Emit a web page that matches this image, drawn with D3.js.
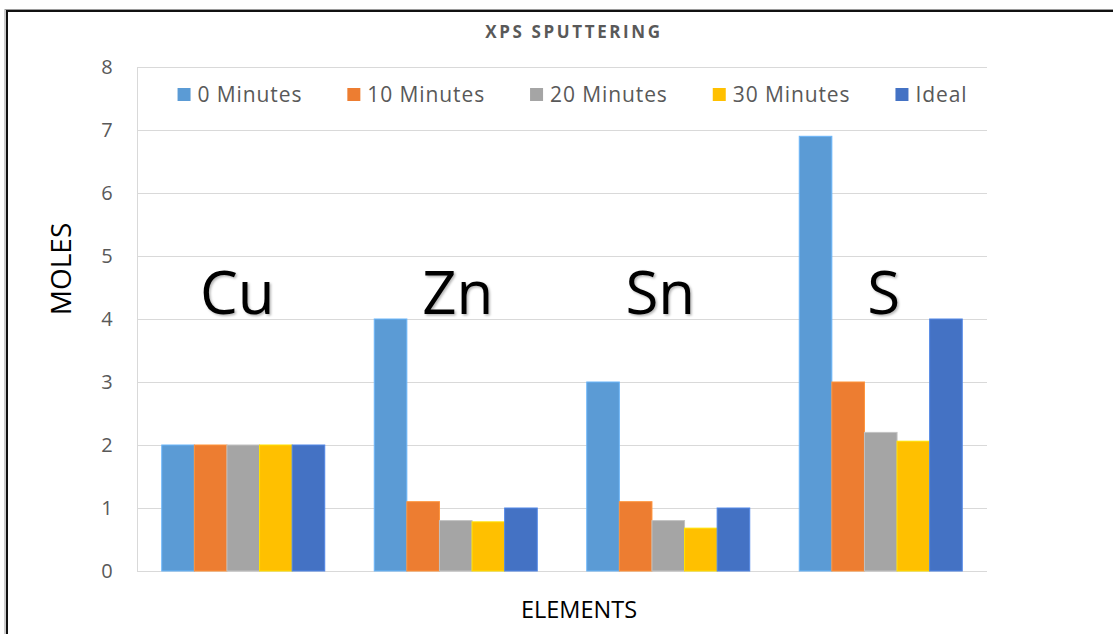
<!DOCTYPE html>
<html>
<head>
<meta charset="utf-8">
<script src="https://cdn.jsdelivr.net/npm/d3@7"></script>
<style>
  html, body { margin: 0; padding: 0; background: #fff; }
  svg { display: block; font-family: "Open Sans", "Noto Sans", sans-serif; }
</style>
</head>
<body>
<svg id="chart" width="1113" height="634"></svg>
<script>
// Elements on the x axis
const elements = ["Cu", "Zn", "Sn", "S"];
// Sputtering times (series)
const seriesNames = ["0 Minutes", "10 Minutes", "20 Minutes", "30 Minutes", "Ideal"];
// Moles per element for each series
const min0  = [2, 4,   3,    6.9];
const min10 = [2, 1.1, 1.1,  3];
const min20 = [2, 0.8, 0.8,  2.2];
const min30 = [2, 0.78, 0.68, 2.06];
const ideal = [2, 1,   1,    4];
const yTicks = [0, 1, 2, 3, 4, 5, 6, 7, 8];
const seriesColors = ["#5B9BD5", "#ED7D31", "#A5A5A5", "#FFC000", "#4472C4"];

const seriesValues = [min0, min10, min20, min30, ideal];

const svg = d3.select("#chart");

// outer frame
svg.append("rect").attr("x", 5).attr("y", 9.5).attr("width", 1130).attr("height", 640)
  .attr("fill", "none").attr("stroke", "#9a9a9a").attr("stroke-width", 1);
svg.append("rect").attr("x", 7).attr("y", 11).attr("width", 1130).attr("height", 640)
  .attr("fill", "none").attr("stroke", "#111").attr("stroke-width", 2);

const plot = { left: 137, right: 987, top: 67, bottom: 571 };

const x0 = d3.scaleBand().domain(elements)
  .range([plot.left, plot.right]).paddingInner(0.233).paddingOuter(0.1165);
const x1 = d3.scaleBand().domain(seriesNames).range([0, x0.bandwidth()]);
const y = d3.scaleLinear().domain([0, 8]).range([plot.bottom, plot.top]);

// gridlines
const grid = svg.append("g")
  .attr("transform", `translate(${plot.left},0)`)
  .call(d3.axisLeft(y).tickValues(yTicks).tickSize(-(plot.right - plot.left)).tickFormat(""));
grid.select(".domain").remove();
grid.selectAll("line").attr("stroke", "#d9d9d9").attr("stroke-width", 1);
// left axis line
svg.append("line").attr("x1", plot.left + 0.5).attr("x2", plot.left + 0.5)
  .attr("y1", plot.top).attr("y2", plot.bottom)
  .attr("stroke", "#d9d9d9").attr("stroke-width", 1);

// y tick labels
const yAxis = svg.append("g")
  .attr("transform", `translate(${plot.left - 24},0)`)
  .call(d3.axisLeft(y).tickValues(yTicks).tickSize(0).tickPadding(0));
yAxis.select(".domain").remove();
yAxis.selectAll("text")
  .attr("text-anchor", "middle")
  .attr("x", -6)
  .attr("font-size", 20)
  .attr("font-family", "'Open Sans', sans-serif")
  .attr("fill", "#595959");

// bars
const groups = svg.append("g").selectAll("g")
  .data(elements)
  .join("g")
  .attr("transform", d => `translate(${x0(d)},0)`);

groups.selectAll("rect")
  .data((el, i) => seriesNames.map((s, k) => ({ s, k, v: seriesValues[k][i] })))
  .join("rect")
  .attr("x", d => x1(d.s))
  .attr("width", x1.bandwidth())
  .attr("y", d => y(d.v))
  .attr("height", d => y(0) - y(d.v))
  .attr("fill", d => seriesColors[d.k])
  .attr("stroke", d => d3.color(seriesColors[d.k]).brighter(0.45))
  .attr("stroke-width", 1);

// large element labels over each group
const defs = svg.append("defs");
const shadow = defs.append("filter").attr("id", "soft").attr("x", "-10%").attr("y", "-10%")
  .attr("width", "130%").attr("height", "130%");
shadow.append("feDropShadow").attr("dx", 1.5).attr("dy", 1.5).attr("stdDeviation", 1)
  .attr("flood-color", "#000").attr("flood-opacity", 0.3);

// small hand-placed nudges of each label relative to its group centre
const labelNudge = [-6, 2, -8, 3];
svg.append("g").selectAll("text")
  .data(elements)
  .join("text")
  .attr("x", (d, i) => x0(d) + x0.bandwidth() / 2 + labelNudge[i])
  .attr("y", 314)
  .attr("text-anchor", "middle")
  .attr("font-size", 60)
  .attr("fill", "#000")
  .attr("filter", "url(#soft)")
  .text(d => d);

// title
svg.append("text")
  .attr("x", 574).attr("y", 38)
  .attr("text-anchor", "middle")
  .attr("font-size", 17).attr("font-weight", "bold")
  .attr("letter-spacing", 2.6)
  .attr("fill", "#595959")
  .text("XPS SPUTTERING");

// axis titles
svg.append("text")
  .attr("transform", "translate(71,269) rotate(-90)")
  .attr("text-anchor", "middle")
  .attr("font-size", 28)
  .attr("fill", "#000")
  .text("MOLES");

svg.append("text")
  .attr("x", 579).attr("y", 618)
  .attr("text-anchor", "middle")
  .attr("font-size", 23.5)
  .attr("fill", "#000")
  .text("ELEMENTS");

// legend
const legend = svg.append("g");
const items = legend.selectAll("g").data(seriesNames).join("g");
items.append("rect")
  .attr("y", 88).attr("width", 13).attr("height", 13)
  .attr("fill", (d, i) => seriesColors[i]);
items.append("text")
  .attr("x", 20).attr("y", 102)
  .attr("font-size", 21)
  .attr("letter-spacing", 0.9)
  .attr("fill", "#595959")
  .text(d => d);
let cursor = 0;
const gap = 45;
items.each(function () {
  const g = d3.select(this);
  const w = 20 + g.select("text").node().getComputedTextLength();
  g.attr("transform", `translate(${cursor},0)`);
  cursor += w + gap;
});
const legendWidth = cursor - gap;
legend.attr("transform", `translate(${572.5 - legendWidth / 2},0)`);
</script>
</body>
</html>
